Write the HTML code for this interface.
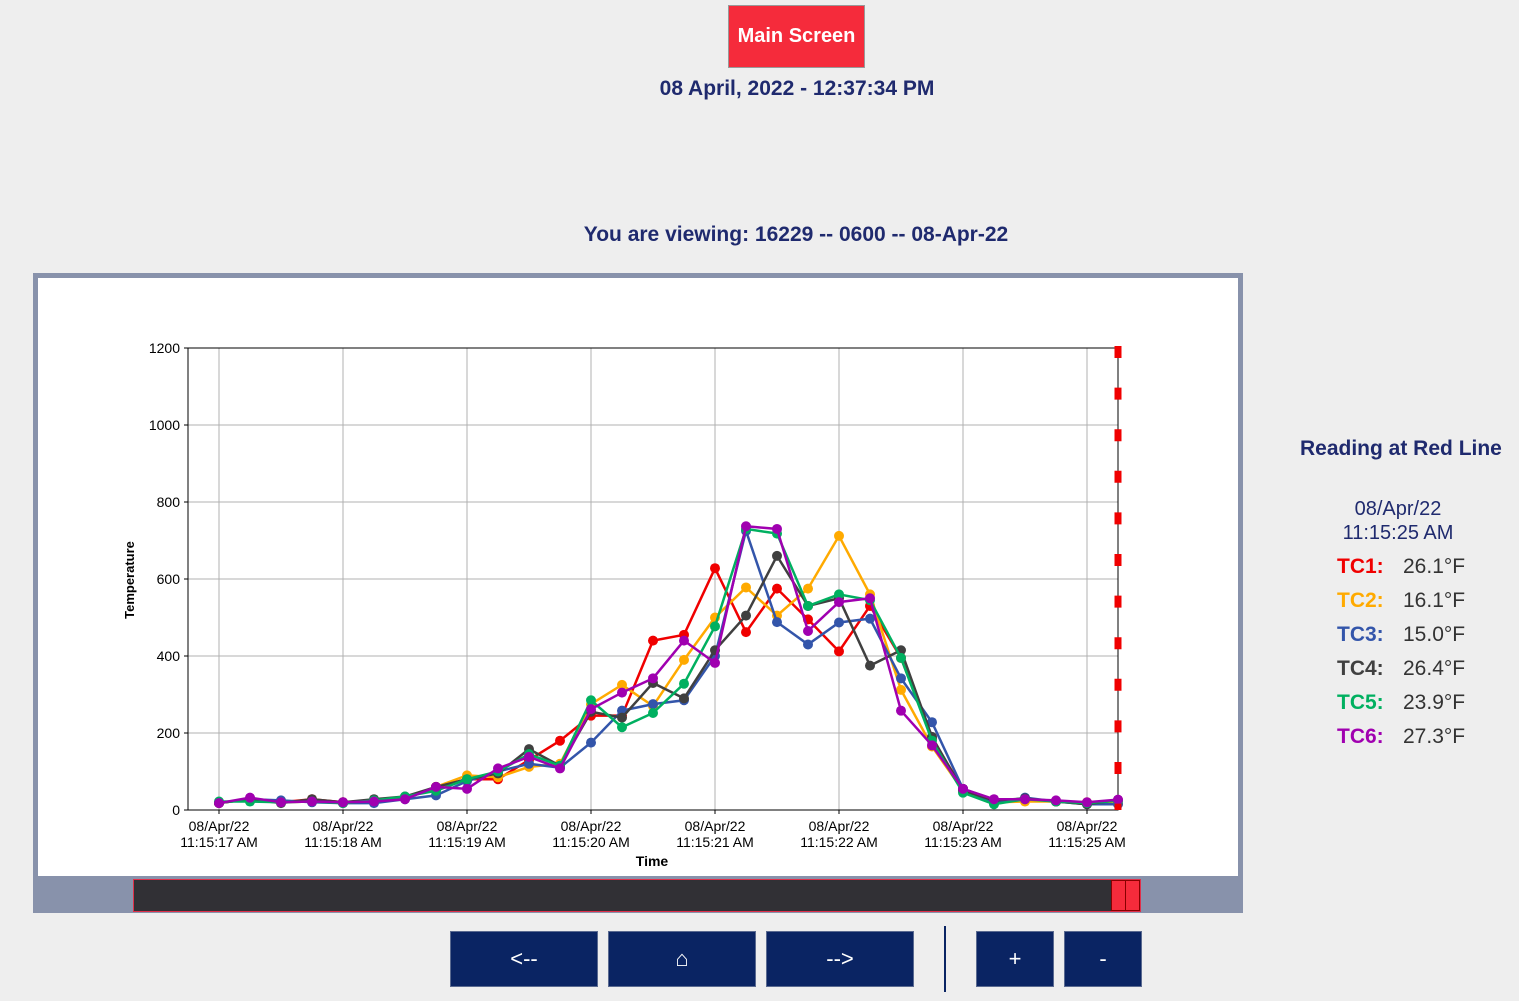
<!DOCTYPE html>
<html><head><meta charset="utf-8"><style>
body{margin:0;width:1519px;height:1001px;background:#eeeeee;font-family:"Liberation Sans",sans-serif;position:relative;overflow:hidden}
.abs{position:absolute}
.nav{position:absolute;top:931px;height:56px;background:#0a2463;color:#fff;font-size:22px;display:flex;align-items:center;justify-content:center;border:1px solid #5a6a90;box-sizing:border-box}
.rt{position:absolute;font-size:21px}
</style></head><body>
<div class="abs" style="left:728px;top:5px;width:137px;height:63px;background:#f52b3b;color:#fff;font-weight:bold;font-size:20px;display:flex;align-items:center;justify-content:center;border:1px solid #999;box-sizing:border-box">Main Screen</div>
<div class="abs" style="left:547px;width:500px;top:77px;text-align:center;color:#1f2a6e;font-weight:bold;font-size:21px">08 April, 2022 - 12:37:34 PM</div>
<div class="abs" style="left:446px;width:700px;top:223px;text-align:center;color:#1f2a6e;font-weight:bold;font-size:21px">You are viewing: 16229 -- 0600 -- 08-Apr-22</div>
<div class="abs" style="left:33px;top:273px;width:1210px;height:640px;background:#8892ab"></div>
<div class="abs" style="left:38px;top:278px;width:1200px;height:598px;background:#fff"></div>
<div class="abs" style="left:133px;top:879px;width:1008px;height:33px;background:#313035;border:1px solid #e0304a;box-sizing:border-box"></div>
<div class="abs" style="left:1111px;top:880px;width:29px;height:31px;background:#f52b3b;border:1px solid #800;box-sizing:border-box"><div style="position:absolute;left:13px;top:0;width:1px;height:29px;background:#800"></div></div>
<svg class="abs" style="left:0;top:0" width="1519" height="1001" id="chart"></svg>
<div class="nav" style="left:450px;width:148px">&lt;--</div>
<div class="nav" style="left:608px;width:148px">⌂</div>
<div class="nav" style="left:766px;width:148px">--&gt;</div>
<div class="abs" style="left:944px;top:926px;width:2px;height:66px;background:#0a2463"></div>
<div class="nav" style="left:976px;width:78px">+</div>
<div class="nav" style="left:1064px;width:78px">-</div>
<div class="rt" style="left:1300px;top:437px;color:#1f2a6e;font-weight:bold">Reading at Red Line</div>
<div class="rt" style="left:1318px;width:160px;top:497px;text-align:center;color:#1f2a6e;line-height:24px;font-size:20px">08/Apr/22<br>11:15:25 AM</div>
<div id="readings"></div>
<script>
const NS="http://www.w3.org/2000/svg";
const svg=document.getElementById('chart');
const xLabels=["11:15:17 AM","11:15:18 AM","11:15:19 AM","11:15:20 AM","11:15:21 AM","11:15:22 AM","11:15:23 AM","11:15:25 AM"];
const yTicks=[0,200,400,600,800,1000,1200];
const tc1=[18,30,20,28,20,25,30,60,80,80,130,180,245,245,440,455,628,462,575,495,412,530,395,185,55,25,25,22,18,26];
const tc2=[18,28,20,22,18,22,30,60,90,85,112,120,275,325,270,390,500,578,505,575,712,560,312,165,50,20,22,22,20,16];
const tc3=[18,28,25,20,18,18,28,38,75,100,120,110,175,258,275,285,400,725,488,430,487,497,342,228,55,18,32,22,15,15];
const tc4=[18,28,18,28,20,28,35,60,80,95,158,115,255,240,330,290,415,505,660,530,550,375,415,190,50,25,30,22,15,26];
const tc5=[22,22,20,22,18,25,35,50,80,100,145,115,285,215,252,328,477,730,718,530,560,545,395,180,45,15,28,22,18,24];
const tc6=[18,32,20,22,20,22,28,60,55,108,138,108,262,305,342,440,382,737,730,465,540,550,258,168,55,28,28,25,20,27];
const seriesNames=["TC1","TC2","TC3","TC4","TC5","TC6"];
const seriesColors=["#f00000","#ffaa00","#3355aa","#404040","#00b060","#a000b0"];
const readings=["26.1°F","16.1°F","15.0°F","26.4°F","23.9°F","27.3°F"];
const series=[tc1,tc2,tc3,tc4,tc5,tc6];
const X0=188,X1=1118,Y0=810,Y1=348;
const xi=i=>219+31*i;
const yv=v=>Y0-(v/1200)*(Y0-Y1);
function mk(t,a,name){const e=document.createElementNS(NS,t);for(const k in a)e.setAttribute(k,a[k]);


svg.appendChild(e);return e;}
yTicks.forEach(v=>{mk('line',{x1:X0,x2:X1,y1:yv(v),y2:yv(v),stroke:'#b0b0b0','stroke-width':1},'y-gridline');
mk('line',{x1:X0-4,x2:X0,y1:yv(v),y2:yv(v),stroke:'#000'},'y-tick');
const t=mk('text',{x:X0-8,y:yv(v)+5,'text-anchor':'end','font-size':14,'font-family':'Liberation Sans'},'y-tick-label');t.textContent=v;});
xLabels.forEach((l,k)=>{const x=xi(4*k);mk('line',{x1:x,x2:x,y1:Y1,y2:Y0,stroke:'#b0b0b0'},'x-gridline');
mk('line',{x1:x,x2:x,y1:Y0,y2:Y0+4,stroke:'#000'},'x-tick');
const t=mk('text',{x:x,y:831,'text-anchor':'middle','font-size':14,'font-family':'Liberation Sans'},'x-tick-label');t.textContent="08/Apr/22";
const t2=mk('text',{x:x,y:847,'text-anchor':'middle','font-size':14,'font-family':'Liberation Sans'},'x-tick-label');t2.textContent=l;});
mk('rect',{x:X0,y:Y1,width:X1-X0,height:Y0-Y1,fill:'none',stroke:'#000'},'plot-border');
let t=mk('text',{x:652,y:866,'text-anchor':'middle','font-size':14,'font-weight':'bold','font-family':'Liberation Sans'},'x-axis-title');t.textContent="Time";
t=mk('text',{x:0,y:0,'text-anchor':'middle','font-size':13,'font-weight':'bold','font-family':'Liberation Sans',transform:'translate(134,580) rotate(-90)'},'y-axis-title');t.textContent="Temperature";
series.forEach((s,si)=>{const pts=s.map((v,i)=>xi(i)+','+yv(v)).join(' ');
mk('polyline',{points:pts,fill:'none',stroke:seriesColors[si],'stroke-width':2.5},'series-line-'+seriesNames[si].toLowerCase());
s.forEach((v,i)=>mk('circle',{cx:xi(i),cy:yv(v),r:5,fill:seriesColors[si]},'point-'+seriesNames[si].toLowerCase()));});
mk('line',{x1:1118,x2:1118,y1:Y1-2,y2:Y0,stroke:'#f00000','stroke-width':7,'stroke-dasharray':'12 29.6'},'red-cursor-line');
const rd=document.getElementById('readings');
seriesNames.forEach((n,i)=>{const d=document.createElement('div');d.className='rt';d.style.left='1337px';d.style.top=(555+34*i)+'px';
d.innerHTML='<span style="color:'+seriesColors[i]+';font-weight:bold">'+n+':</span><span style="position:absolute;left:66px;color:#333;white-space:nowrap">'+readings[i]+'</span>';


rd.appendChild(d);});
</script>
</body></html>
